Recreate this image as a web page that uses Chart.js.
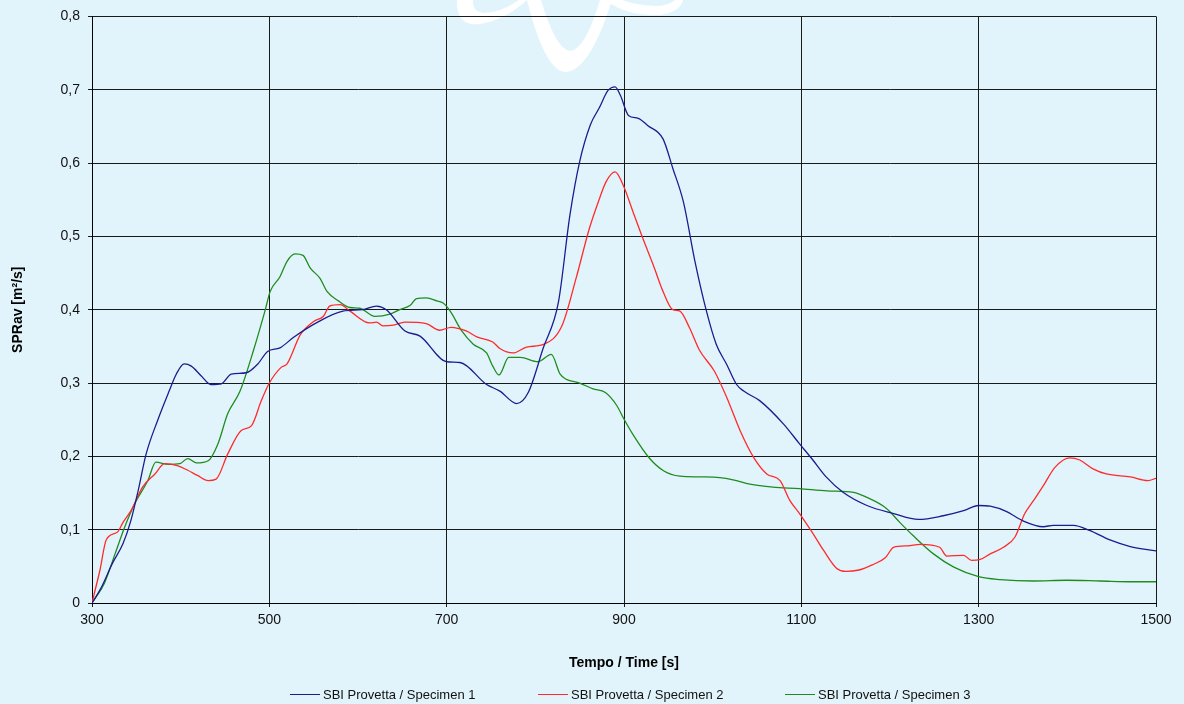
<!DOCTYPE html>
<html>
<head>
<meta charset="utf-8">
<script src="https://cdn.jsdelivr.net/npm/chart.js@4/dist/chart.umd.min.js"></script>
<style>
  html,body{margin:0;padding:0;background:#e2f4fb;}
  #wrap{position:relative;width:1184px;height:704px;overflow:hidden;}
  #c{position:absolute;left:0;top:0;}
  .leg{position:absolute;top:687px;font:13px "Liberation Sans",Arial,sans-serif;color:#111;white-space:nowrap;display:flex;align-items:center;}
  .leg i{display:inline-block;width:30px;height:1px;margin-right:3px;}
</style>
</head>
<body>
<div id="wrap">
  <canvas id="c" width="1184" height="704"></canvas>
  <div class="leg" style="left:290px"><i style="background:#1c1c8e"></i>SBI Provetta / Specimen 1</div>
  <div class="leg" style="left:538px"><i style="background:#ff2a2a"></i>SBI Provetta / Specimen 2</div>
  <div class="leg" style="left:785px"><i style="background:#1f8c1f"></i>SBI Provetta / Specimen 3</div>
</div>
<script>
// DATA (time [s], SPR [m2/s])
const s1T = [300,310,323,335,344,352,361,374,387,395,404,412,423,434,446,457,474,487,498,512,527,553,583,605,621,632,653,670,700,715,745,760,779,792,809,826,839,850,862,872,882,890,896,905,916,927,944,955,967,980,993,1004,1016,1027,1035,1053,1080,1098,1113,1128,1147,1174,1204,1232,1260,1283,1300,1313,1331,1350,1373,1384,1407,1425,1448,1471,1500];
const s1V = [0,0.02,0.054,0.081,0.113,0.153,0.203,0.249,0.289,0.312,0.326,0.323,0.31,0.298,0.299,0.312,0.314,0.326,0.343,0.348,0.362,0.382,0.398,0.40,0.405,0.40,0.371,0.364,0.329,0.328,0.298,0.289,0.272,0.287,0.348,0.41,0.529,0.602,0.652,0.675,0.699,0.704,0.692,0.665,0.661,0.651,0.633,0.593,0.547,0.466,0.398,0.353,0.325,0.298,0.289,0.276,0.244,0.217,0.195,0.172,0.151,0.133,0.122,0.114,0.119,0.126,0.133,0.132,0.125,0.112,0.104,0.106,0.106,0.099,0.086,0.077,0.071];

const s2T = [300,302,309,316,329,335,344,357,371,382,397,408,419,431,440,453,468,480,491,500,513,520,535,550,561,568,580,591,613,621,628,640,653,677,692,705,722,734,752,760,775,790,810,830,846,861,871,880,890,899,910,921,933,944,955,963,974,985,1002,1016,1031,1046,1061,1076,1087,1098,1113,1125,1140,1150,1165,1180,1195,1204,1220,1234,1256,1264,1283,1292,1301,1313,1328,1341,1352,1362,1373,1386,1403,1414,1429,1444,1471,1491,1500];
const s2V = [0,0.01,0.045,0.086,0.097,0.11,0.126,0.158,0.176,0.19,0.187,0.181,0.174,0.167,0.169,0.203,0.235,0.242,0.276,0.30,0.321,0.326,0.366,0.384,0.391,0.405,0.407,0.398,0.382,0.383,0.378,0.379,0.383,0.381,0.372,0.376,0.371,0.363,0.356,0.347,0.341,0.349,0.353,0.378,0.443,0.511,0.547,0.575,0.588,0.57,0.534,0.498,0.461,0.425,0.40,0.398,0.375,0.345,0.316,0.28,0.235,0.199,0.176,0.167,0.14,0.122,0.095,0.072,0.047,0.043,0.045,0.052,0.062,0.076,0.078,0.08,0.076,0.064,0.065,0.058,0.059,0.067,0.076,0.09,0.122,0.14,0.16,0.185,0.198,0.195,0.183,0.176,0.172,0.167,0.17];

const s3T = [300,314,326,337,348,363,372,386,399,408,418,431,442,453,467,482,495,501,512,520,529,538,546,557,565,578,591,602,619,636,647,659,666,677,689,696,704,717,730,745,752,759,770,783,803,818,828,835,850,865,879,892,899,910,929,945,963,986,1008,1023,1042,1068,1098,1129,1159,1174,1196,1211,1226,1249,1272,1300,1324,1362,1399,1437,1474,1500];
const s3V = [0,0.027,0.067,0.104,0.135,0.167,0.192,0.189,0.19,0.197,0.191,0.194,0.217,0.258,0.289,0.344,0.398,0.425,0.445,0.466,0.476,0.474,0.457,0.443,0.425,0.412,0.403,0.402,0.391,0.394,0.40,0.406,0.415,0.416,0.412,0.409,0.398,0.371,0.353,0.341,0.323,0.311,0.335,0.335,0.329,0.339,0.312,0.305,0.30,0.292,0.287,0.269,0.253,0.23,0.197,0.18,0.173,0.172,0.171,0.168,0.162,0.158,0.156,0.153,0.151,0.144,0.129,0.11,0.092,0.067,0.049,0.036,0.032,0.03,0.031,0.03,0.029,0.029];

const names = ["SBI Provetta / Specimen 1","SBI Provetta / Specimen 2","SBI Provetta / Specimen 3"];
const colors = ["#1c1c8e","#ff2a2a","#1f8c1f"];

function pts(t,v){ return t.map((x,i)=>({x:x,y:v[i]})); }

// background + watermark
const bg = {
  id:"bg",
  beforeDraw(chart){
    const c = chart.ctx;
    c.save();
    c.fillStyle="#e2f4fb";
    c.fillRect(0,0,chart.width,chart.height);
    c.fillStyle="#ffffff";
    c.beginPath();
    c.moveTo(457,0); c.quadraticCurveTo(456,27,480,24); c.quadraticCurveTo(505,20,527,0);
    c.lineTo(519,0); c.quadraticCurveTo(500,13,484,13); c.quadraticCurveTo(472,12,473,0);
    c.closePath(); c.fill();
    c.beginPath();
    c.moveTo(527,0); c.quadraticCurveTo(545,72,566,72); c.quadraticCurveTo(590,70,612,0);
    c.lineTo(600,0); c.quadraticCurveTo(585,50,570,51); c.quadraticCurveTo(556,50,541,0);
    c.closePath(); c.fill();
    c.beginPath();
    c.moveTo(606,0); c.quadraticCurveTo(625,16,660,15); c.quadraticCurveTo(680,12,683,0);
    c.lineTo(675,0); c.quadraticCurveTo(668,6,655,6); c.quadraticCurveTo(635,5,622,0);
    c.closePath(); c.fill();
    c.restore();
  }
};

const ds = [pts(s1T,s1V),pts(s2T,s2V),pts(s3T,s3V)].map((d,i)=>({
  label:names[i], data:d, borderColor:colors[i], backgroundColor:colors[i],
  borderWidth:1.3, pointRadius:0, fill:false, cubicInterpolationMode:"monotone"
}));

new Chart(document.getElementById("c"),{
  type:"line",
  data:{datasets:ds},
  plugins:[bg],
  options:{
    responsive:false, animation:false, devicePixelRatio:1,
    layout:{padding:{top:14,right:28,left:0,bottom:30}},
    plugins:{legend:{display:false},tooltip:{enabled:false}},
    scales:{
      x:{
        type:"linear", min:300, max:1500,
        ticks:{stepSize:200, color:"#111", padding:5, maxRotation:0,
          font:{family:"Liberation Sans", size:14},
          callback:v=>String(v)},
        grid:{color:"#1a1a1a", lineWidth:1, tickLength:4},
        border:{color:"#000", width:1},
        title:{display:true, text:"Tempo / Time [s]", color:"#000",
          font:{family:"Liberation Sans", size:14, weight:"bold"}, padding:{top:0,bottom:2}},
        afterFit(s){ s.height=71; }
      },
      y:{
        min:0, max:0.8,
        ticks:{stepSize:0.1, color:"#111", padding:8,
          font:{family:"Liberation Sans", size:14},
          callback:v=> v===0 ? "0" : v.toFixed(1).replace(".",",")},
        grid:{color:"#1a1a1a", lineWidth:1, tickLength:4},
        border:{color:"#000", width:1},
        title:{display:true, text:"SPRav [m²/s]", color:"#000",
          font:{family:"Liberation Sans", size:14, weight:"bold"}, padding:{top:10,bottom:0}},
        afterFit(s){ s.width=92; }
      }
    }
  }
});
</script>
</body>
</html>
